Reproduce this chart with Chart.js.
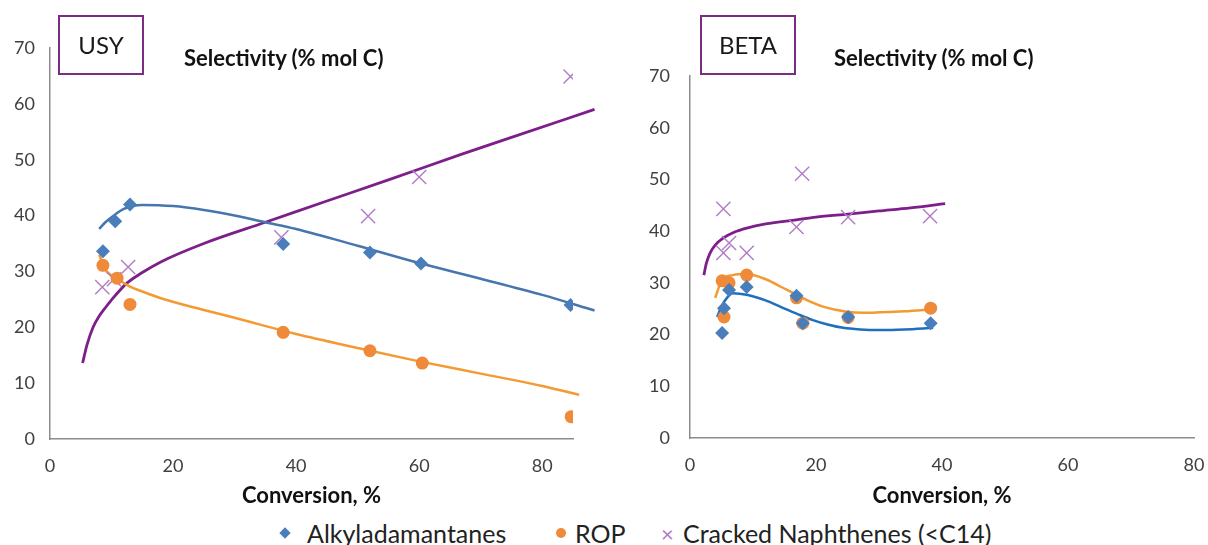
<!DOCTYPE html>
<html>
<head>
<meta charset="utf-8">
<script src="https://cdn.jsdelivr.net/npm/chart.js@4.4.1/dist/chart.umd.min.js"></script>
<style>
  body { margin: 0; background: #fff; font-family: Lato, "Open Sans", sans-serif; }
  #page { position: relative; width: 1208px; height: 545px; overflow: hidden; }
  canvas { position: absolute; top: 0; }
  #usyChart { left: 0; }
  #betaChart { left: 640px; }
  .tag { position: absolute; box-sizing: border-box; border: 2px solid #7b2c83; height: 60px; top: 15px;
         font-size: 24px; line-height: 56px; text-align: center; color: #1a1a1a; }
  .sel { position: absolute; top: 45px; font-weight: bold; font-size: 22px; line-height: 26px; color: #111; }
  #legend { position: absolute; top: 518px; left: 0; font-size: 25px; line-height: 30px; color: #222; }
  #legend span { position: absolute; white-space: nowrap; }
</style>
</head>
<body>
<div id="page">
  <canvas id="usyChart" width="600" height="510"></canvas>
  <canvas id="betaChart" width="568" height="510"></canvas>
  <div class="tag" style="left:58px;width:86px">USY</div>
  <div class="tag" style="left:700px;width:96px">BETA</div>
  <div class="sel" style="left:184px">Selectivity (% mol C)</div>
  <div class="sel" style="left:834px">Selectivity (% mol C)</div>
  <div id="legend">
    <span style="left:281px;top:11px;width:8px;height:8px;background:#4a7ebb;transform:rotate(45deg)"></span>
    <span style="left:307px">Alkyladamantanes</span>
    <span style="left:556px;top:10px;width:10px;height:10px;border-radius:50%;background:#ee8a3a"></span>
    <span style="left:575px">ROP</span>
    <span style="left:661px;top:1px;color:#b07cc6;font-size:22px">×</span>
    <span style="left:683px">Cracked Naphthenes (&lt;C14)</span>
  </div>
</div>
<script>
// USY measured points
const usyAlkX = [8.6, 10.6, 13.0, 37.9, 52.0, 60.3, 84.6];
const usyAlkY = [33.6, 39.0, 42.0, 34.9, 33.4, 31.4, 24.0];
const usyRopX = [8.6, 10.9, 13.0, 37.9, 52.0, 60.5, 84.7];
const usyRopY = [31.1, 28.8, 24.1, 19.1, 15.8, 13.6, 4.0];
const usyCrkX = [8.5, 10.4, 12.7, 37.6, 51.7, 60.0, 84.6];
const usyCrkY = [27.2, 28.6, 30.8, 36.1, 39.9, 46.9, 64.9];

// USY trend lines
const usyAlkFitX = [8, 9, 10, 12, 15, 20, 25, 30, 35, 40, 50, 60, 70, 80, 88.5];
const usyAlkFitY = [37.6, 38.8, 39.7, 41.2, 41.9, 41.7, 41.0, 40.0, 38.8, 37.6, 34.6, 31.5, 28.7, 25.8, 23.0];
const usyRopFitX = [8, 9, 10, 11, 13, 15, 18, 25, 30, 40, 50, 60, 70, 80, 86];
const usyRopFitY = [33.0, 30.3, 29.3, 28.6, 27.3, 26.4, 25.2, 23.1, 21.7, 18.8, 16.3, 13.9, 11.7, 9.5, 7.9];
const usyCrkFitX = [5.3, 6, 7, 8, 9, 10, 12.5, 15, 18, 25, 35, 45, 55, 66.7, 75, 88.5];
const usyCrkFitY = [13.6, 16.8, 20.0, 22.0, 23.5, 24.9, 27.9, 29.8, 31.7, 35.0, 38.8, 42.6, 46.4, 50.9, 54.0, 59.0];

// BETA measured points
const betaAlkX = [5.1, 5.4, 6.2, 9.0, 16.9, 17.9, 25.1, 38.2];
const betaAlkY = [20.3, 25.1, 28.6, 29.2, 27.5, 22.2, 23.4, 22.2];
const betaRopX = [5.1, 5.4, 6.2, 9.0, 16.9, 17.9, 25.1, 38.2];
const betaRopY = [30.4, 23.4, 30.0, 31.5, 27.1, 22.2, 23.3, 25.1];
const betaCrkX = [5.3, 5.3, 6.2, 9.0, 16.9, 17.8, 25.1, 38.1];
const betaCrkY = [44.3, 35.8, 37.7, 35.8, 40.8, 51.1, 42.7, 42.9];

// BETA trend lines
const betaAlkFitX = [4.3, 5.1, 6, 6.8, 9, 12, 14.3, 17, 19.5, 22, 24.3, 27, 30.2, 34, 38.6];
const betaAlkFitY = [23.4, 25.7, 27.3, 28.0, 27.7, 26.6, 25.4, 24.0, 22.8, 21.9, 21.3, 21.0, 20.9, 21.0, 21.3];
const betaRopFitX = [4.0, 5.1, 6.8, 9, 12.2, 14.5, 16.9, 19, 21.1, 24.9, 27.5, 30.2, 34, 38.6];
const betaRopFitY = [27.1, 30.6, 31.5, 31.7, 30.6, 29.2, 27.7, 26.4, 25.4, 24.4, 24.2, 24.3, 24.5, 24.9];
const betaCrkFitX = [2.2, 2.6, 3.2, 4, 5.3, 7, 9, 12, 16.9, 20, 25.1, 30, 35, 40.5];
const betaCrkFitY = [31.5, 33.8, 35.8, 37.3, 38.7, 39.8, 40.6, 41.4, 42.2, 42.7, 43.3, 43.9, 44.5, 45.3];

const yTicks = [0, 10, 20, 30, 40, 50, 60, 70];
const xTicks = [0, 20, 40, 60, 80];

const colors = {
  alk: "#4a7ebb",
  rop: "#ee8a3a",
  crk: "#b07cc6",
  ropLine: "#f39a33",
  crkLine: "#7e1e8a",
};

const pts = (xs, ys) => xs.map((x, i) => ({ x: x, y: ys[i] }));

function markers(xs, ys, style, color, radius) {
  return {
    data: pts(xs, ys),
    pointStyle: style,
    pointRadius: radius,
    pointBackgroundColor: color,
    pointBorderColor: color,
    pointBorderWidth: style === "crossRot" ? 1.4 : 0,
    showLine: false,
    order: 0,
  };
}

function fit(xs, ys, color, width) {
  return {
    data: pts(xs, ys),
    showLine: true,
    borderColor: color,
    borderWidth: width || 2.5,
    pointRadius: 0,
    cubicInterpolationMode: "monotone",
    clip: false,
    order: 1,
  };
}

function makeChart(el, cfg) {
  const tickFont = { family: "Lato", size: 18 };
  return new Chart(el, {
    type: "scatter",
    data: { datasets: cfg.datasets },
    options: {
      responsive: false,
      animation: false,
      layout: { padding: { top: cfg.top, right: cfg.right, left: 0, bottom: 0 } },
      plugins: { legend: { display: false }, tooltip: { enabled: false } },
      scales: {
        x: {
          type: "linear",
          min: 0,
          max: cfg.xMax,
          afterBuildTicks: (s) => { s.ticks = xTicks.map((v) => ({ value: v })); },
          afterFit: (s) => {
            s.height = cfg.xHeight;
            s.paddingRight = 0;
            s.paddingLeft = 0;
          },
          ticks: { padding: 16, color: "#404040", font: tickFont },
          grid: { drawOnChartArea: false, drawTicks: false },
          border: { color: "#8c8c8c", width: 1.5 },
          title: {
            display: true,
            text: "Conversion, %",
            color: "#111",
            font: { family: "Lato", size: 22, weight: "bold" },
            padding: { top: 0, bottom: 1 },
          },
        },
        y: {
          min: 0,
          max: 70,
          afterBuildTicks: (s) => { s.ticks = yTicks.map((v) => ({ value: v })); },
          afterFit: (s) => { s.width = 50; },
          ticks: { padding: cfg.yPad, color: "#404040", font: tickFont },
          grid: { drawOnChartArea: false, drawTicks: false },
          border: { color: "#8c8c8c", width: 1.5 },
        },
      },
    },
  });
}

makeChart(document.getElementById("usyChart"), {
  top: 48, right: 27, xMax: 85, xHeight: 71, yPad: 15,
  datasets: [
    markers(usyAlkX, usyAlkY, "rectRot", colors.alk, 7),
    markers(usyRopX, usyRopY, "circle", colors.rop, 6.5),
    markers(usyCrkX, usyCrkY, "crossRot", colors.crk, 10),
    fit(usyAlkFitX, usyAlkFitY, "#4676ad"),
    fit(usyRopFitX, usyRopFitY, colors.ropLine),
    fit(usyCrkFitX, usyCrkFitY, colors.crkLine, 2.8),
  ],
});

makeChart(document.getElementById("betaChart"), {
  top: 76, right: 14, xMax: 80, xHeight: 72, yPad: 20,
  datasets: [
    markers(betaAlkX, betaAlkY, "rectRot", colors.alk, 7),
    markers(betaRopX, betaRopY, "circle", colors.rop, 6.5),
    markers(betaCrkX, betaCrkY, "crossRot", colors.crk, 10),
    fit(betaAlkFitX, betaAlkFitY, "#1f6fbf"),
    fit(betaRopFitX, betaRopFitY, colors.ropLine),
    fit(betaCrkFitX, betaCrkFitY, colors.crkLine, 2.8),
  ],
});
</script>
</body>
</html>
